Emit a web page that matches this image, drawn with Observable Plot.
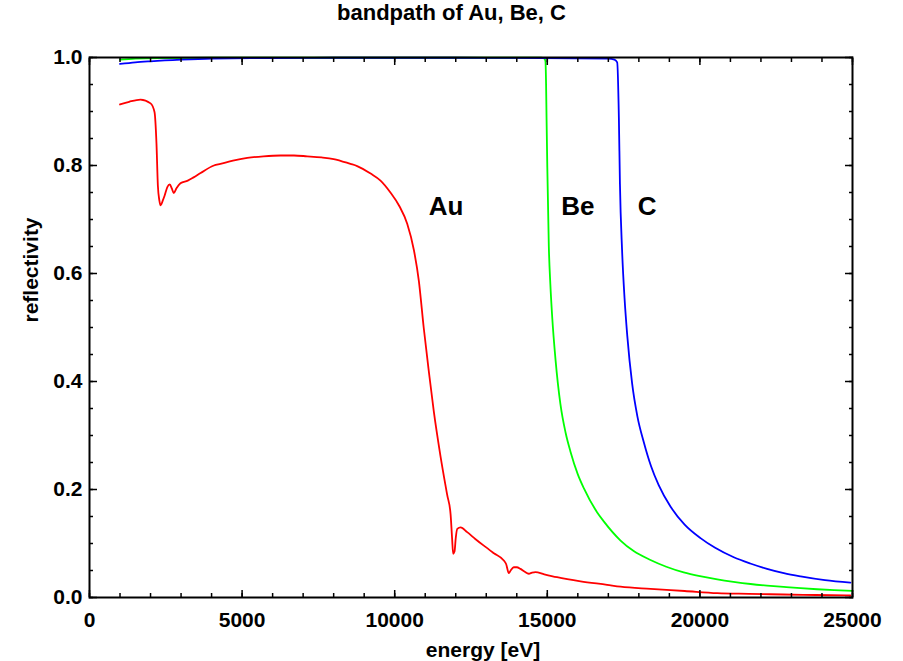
<!DOCTYPE html>
<html>
<head>
<meta charset="utf-8">
<script src="https://cdn.jsdelivr.net/npm/d3@7"></script>
<script src="https://cdn.jsdelivr.net/npm/@observablehq/plot@0.6"></script>
<style>
  html, body { margin: 0; padding: 0; background: #fff; }
  #wrap { position: relative; width: 903px; height: 661px; overflow: hidden; }
  #title { width: 903px; height: 36px; line-height: 36px; text-align: center;
           font: bold 22px "Liberation Sans", Arial, sans-serif; color: #000; }
  svg { display: block; }
</style>
</head>
<body>
<div id="wrap">
  <div id="title">bandpath of Au, Be, C</div>
  <div id="chart"></div>
</div>
<script>
// ---- data ----
const auEnergy = [1000,1300,1670,2000,2130,2195,2240,2290,2330,2400,2460,2550,2630,2700,2760,2850,2980,3220,3410,3640,4075,4290,4700,5170,5700,6260,6700,7130,7600,8000,8550,8770,9210,9535,9860,10150,10410,10630,10790,10950,11120,11280,11500,11720,11830,11880,11915,11960,12000,12050,12160,12375,12650,12920,13250,13575,13650,13740,13800,13900,14000,14120,14250,14395,14500,14610,14900,15320,16090,16960,17400,18380,19500,20570,21600,22740,23800,24930];
const auRefl = [0.913,0.918,0.922,0.915,0.899,0.84,0.763,0.735,0.726,0.735,0.744,0.760,0.765,0.757,0.749,0.758,0.767,0.772,0.778,0.786,0.800,0.803,0.809,0.814,0.817,0.8185,0.8185,0.817,0.815,0.812,0.803,0.799,0.785,0.772,0.750,0.725,0.692,0.643,0.587,0.500,0.418,0.345,0.262,0.190,0.155,0.110,0.081,0.085,0.110,0.127,0.130,0.121,0.108,0.096,0.082,0.0685,0.062,0.045,0.050,0.056,0.056,0.053,0.048,0.044,0.046,0.047,0.043,0.0376,0.030,0.0235,0.020,0.016,0.012,0.008,0.0068,0.0056,0.0046,0.0037];

const beEnergy = [1000,1500,2500,4000,8000,12000,14800,14900,14940,14960,14975,15000,15050,15100,15160,15270,15430,15600,15760,16000,16200,16630,16850,17400,17830,18380,18900,19470,20000,20570,21100,21660,22200,22750,23300,23840,24400,25000];
const beRefl = [0.996,0.998,0.999,0.9995,0.9995,0.9995,0.9995,0.998,0.993,0.95,0.889,0.797,0.650,0.580,0.520,0.440,0.358,0.305,0.270,0.228,0.202,0.158,0.141,0.1055,0.086,0.0695,0.057,0.0465,0.0395,0.0335,0.0290,0.0250,0.0220,0.0195,0.0172,0.0153,0.0137,0.0123];

const cEnergy = [1000,1500,2000,3000,4000,6000,8000,12000,17000,17200,17290,17345,17380,17450,17530,17620,17780,17950,18160,18400,18650,19040,19500,20020,20500,21110,21650,22200,22750,23300,24100,24930];
const cRefl = [0.988,0.991,0.993,0.996,0.998,0.999,0.9995,0.9995,0.998,0.996,0.991,0.889,0.766,0.643,0.555,0.485,0.396,0.336,0.288,0.243,0.208,0.168,0.135,0.110,0.092,0.0745,0.063,0.053,0.045,0.039,0.032,0.0275];

const seriesNames = ["Au", "Be", "C"];
const seriesColors = ["#ff0000", "#00ff00", "#0000ff"];
const labelEnergy = [11117, 15460, 17960];
const labelRefl = [0.724, 0.724, 0.724];

const xMajor = [0, 5000, 10000, 15000, 20000, 25000];
const xMinor = d3.range(0, 25001, 1000);
const yMajor = [0, 0.2, 0.4, 0.6, 0.8, 1.0];
const yMinor = d3.range(0, 1.0001, 0.05);

const xTitle = "energy [eV]";
const yTitle = "reflectivity";

// ---- build tables ----
const mk = (E, R, name) => E.map((e, i) => ({e, r: R[i], name}));
const au = mk(auEnergy, auRefl, "Au");
const be = mk(beEnergy, beRefl, "Be");
const c = mk(cEnergy, cRefl, "C");
const labels = seriesNames.map((n, i) => ({name: n, e: labelEnergy[i], r: labelRefl[i]}));

const font = "Liberation Sans, Arial, sans-serif";
const noText = () => "";

const chart = Plot.plot({
  width: 903,
  height: 625,
  marginLeft: 89,
  marginRight: 51,
  marginTop: 21,
  marginBottom: 64,
  x: {domain: [0, 25000]},
  y: {domain: [0, 1]},
  style: {fontFamily: font, fontWeight: "bold", background: "white", color: "black"},
  marks: [
    Plot.line(au, {x: "e", y: "r", stroke: seriesColors[0], strokeWidth: 1.8, curve: "monotone-x"}),
    Plot.line(be, {x: "e", y: "r", stroke: seriesColors[1], strokeWidth: 1.8, curve: "monotone-x"}),
    Plot.line(c, {x: "e", y: "r", stroke: seriesColors[2], strokeWidth: 1.8, curve: "monotone-x"}),
    Plot.text(labels, {x: "e", y: "r", text: "name", textAnchor: "start", lineAnchor: "middle",
      fontSize: 26, fontWeight: "bold", fill: "black"}),
    Plot.frame({stroke: "black", strokeWidth: 2}),
    // inward ticks, all four sides
    Plot.axisX({anchor: "bottom", ticks: xMinor, tickSize: -4, tickFormat: noText, label: null, strokeWidth: 1.5}),
    Plot.axisX({anchor: "bottom", ticks: xMajor, tickSize: -7, tickFormat: noText, label: null, strokeWidth: 1.5}),
    Plot.axisX({anchor: "top", ticks: xMinor, tickSize: -4, tickFormat: noText, label: null, strokeWidth: 1.5}),
    Plot.axisX({anchor: "top", ticks: xMajor, tickSize: -7, tickFormat: noText, label: null, strokeWidth: 1.5}),
    Plot.axisY({anchor: "left", ticks: yMinor, tickSize: -4, tickFormat: noText, label: null, strokeWidth: 1.5}),
    Plot.axisY({anchor: "left", ticks: yMajor, tickSize: -8, tickFormat: noText, label: null, strokeWidth: 1.5}),
    Plot.axisY({anchor: "right", ticks: yMinor, tickSize: -4, tickFormat: noText, label: null, strokeWidth: 1.5}),
    Plot.axisY({anchor: "right", ticks: yMajor, tickSize: -8, tickFormat: noText, label: null, strokeWidth: 1.5}),
    // tick labels
    Plot.axisX({anchor: "bottom", ticks: xMajor, tickSize: 0, tickPadding: 15, tickFormat: d => String(d),
      label: null, fontSize: 21, fontWeight: "bold"}),
    Plot.axisY({anchor: "left", ticks: yMajor, tickSize: 0, tickPadding: 7, tickFormat: d => d.toFixed(1),
      label: null, fontSize: 21, fontWeight: "bold"}),
    // axis titles
    Plot.text([xTitle], {frameAnchor: "bottom", dx: 12, dy: 53, lineAnchor: "middle", fontSize: 21, fontWeight: "bold", fill: "black"}),
    Plot.text([yTitle], {frameAnchor: "left", dx: -58, dy: -5, rotate: -90, lineAnchor: "middle", fontSize: 21, fontWeight: "bold", fill: "black"})
  ]
});
document.getElementById("chart").appendChild(chart);
</script>
</body>
</html>
